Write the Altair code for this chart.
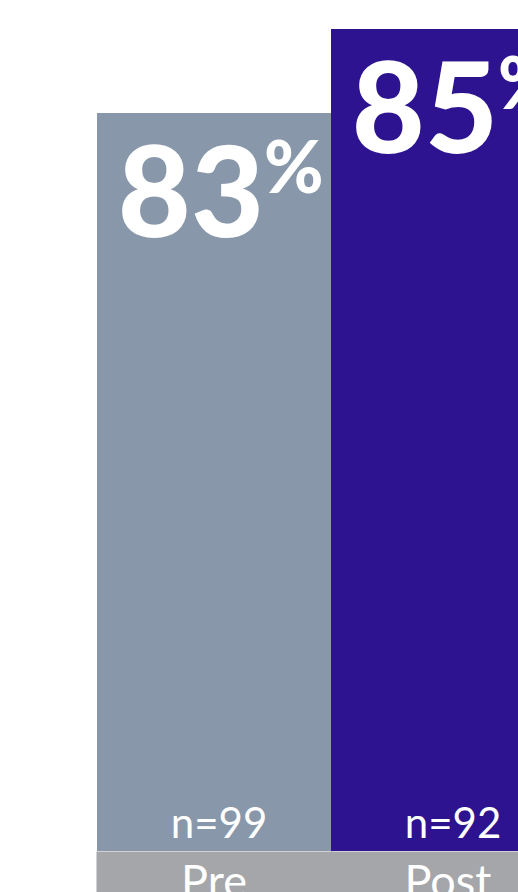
import altair as alt
import pandas as pd

categories = ["Pre", "Post"]
values = [83, 85]
value_labels = ["83", "85"]
n_labels = ["n=99", "n=92"]
colors = ["#8898AA", "#2D138F"]

Y_MIN = 65.43
Y_MAX = 85.69

df = pd.DataFrame({
    "cat": categories,
    "value": values,
    "label": value_labels,
    "n": n_labels,
})

xscale = alt.Scale(domain=categories, range=[0, 468], paddingInner=0, paddingOuter=0)
yscale = alt.Scale(domain=[Y_MIN, Y_MAX], zero=False, nice=False)

X = alt.X(
    "cat:N",
    sort=categories,
    scale=xscale,
    axis=alt.Axis(
        title=None,
        domain=False,
        ticks=True,
        tickColor="#A5A6A9",
        tickWidth=236,
        tickSize=41,
        labelColor="white",
        labelFontSize=45,
        labelFont="Lato",
        labelBaseline="top",
        labelPadding=-32,
        labelAngle=0,
        labelAlign="center",
        grid=False,
    ),
)
Y = alt.Y("value:Q", scale=yscale, axis=None)

base = alt.Chart(df)

bars = base.mark_bar(clip=True).encode(
    x=X,
    y=Y,
    y2=alt.datum(Y_MIN),
    color=alt.Color("cat:N", scale=alt.Scale(domain=categories, range=colors), legend=None),
)

digits = base.mark_text(
    align="right", baseline="alphabetic", dx=50, dy=124,
    fontSize=126, font="Lato", fontWeight=900, color="white", clip=True,
).encode(x=X, y=Y, text="label:N")

pct = base.mark_text(
    align="left", baseline="alphabetic", dx=50, dy=80,
    fontSize=72, font="Lato", fontWeight=900, color="white", clip=True,
).encode(x=X, y=Y, text=alt.value("%"))

nlab = base.mark_text(
    align="center", baseline="alphabetic", dx=5, dy=-13,
    fontSize=42, font="Lato", color="white", clip=True,
).encode(x=X, y=alt.Y(datum=Y_MIN, scale=yscale, axis=None), text="n:N")

chart = alt.layer(bars, digits, pct, nlab).properties(
    width=421,
    height=851,
    padding={"left": 97, "top": 0, "right": 0, "bottom": 41},
    autosize=alt.AutoSizeParams(type="none"),
    background="white",
).configure_view(stroke=None)

chart.save("out.html", embed_options={"renderer": "svg", "actions": False})
